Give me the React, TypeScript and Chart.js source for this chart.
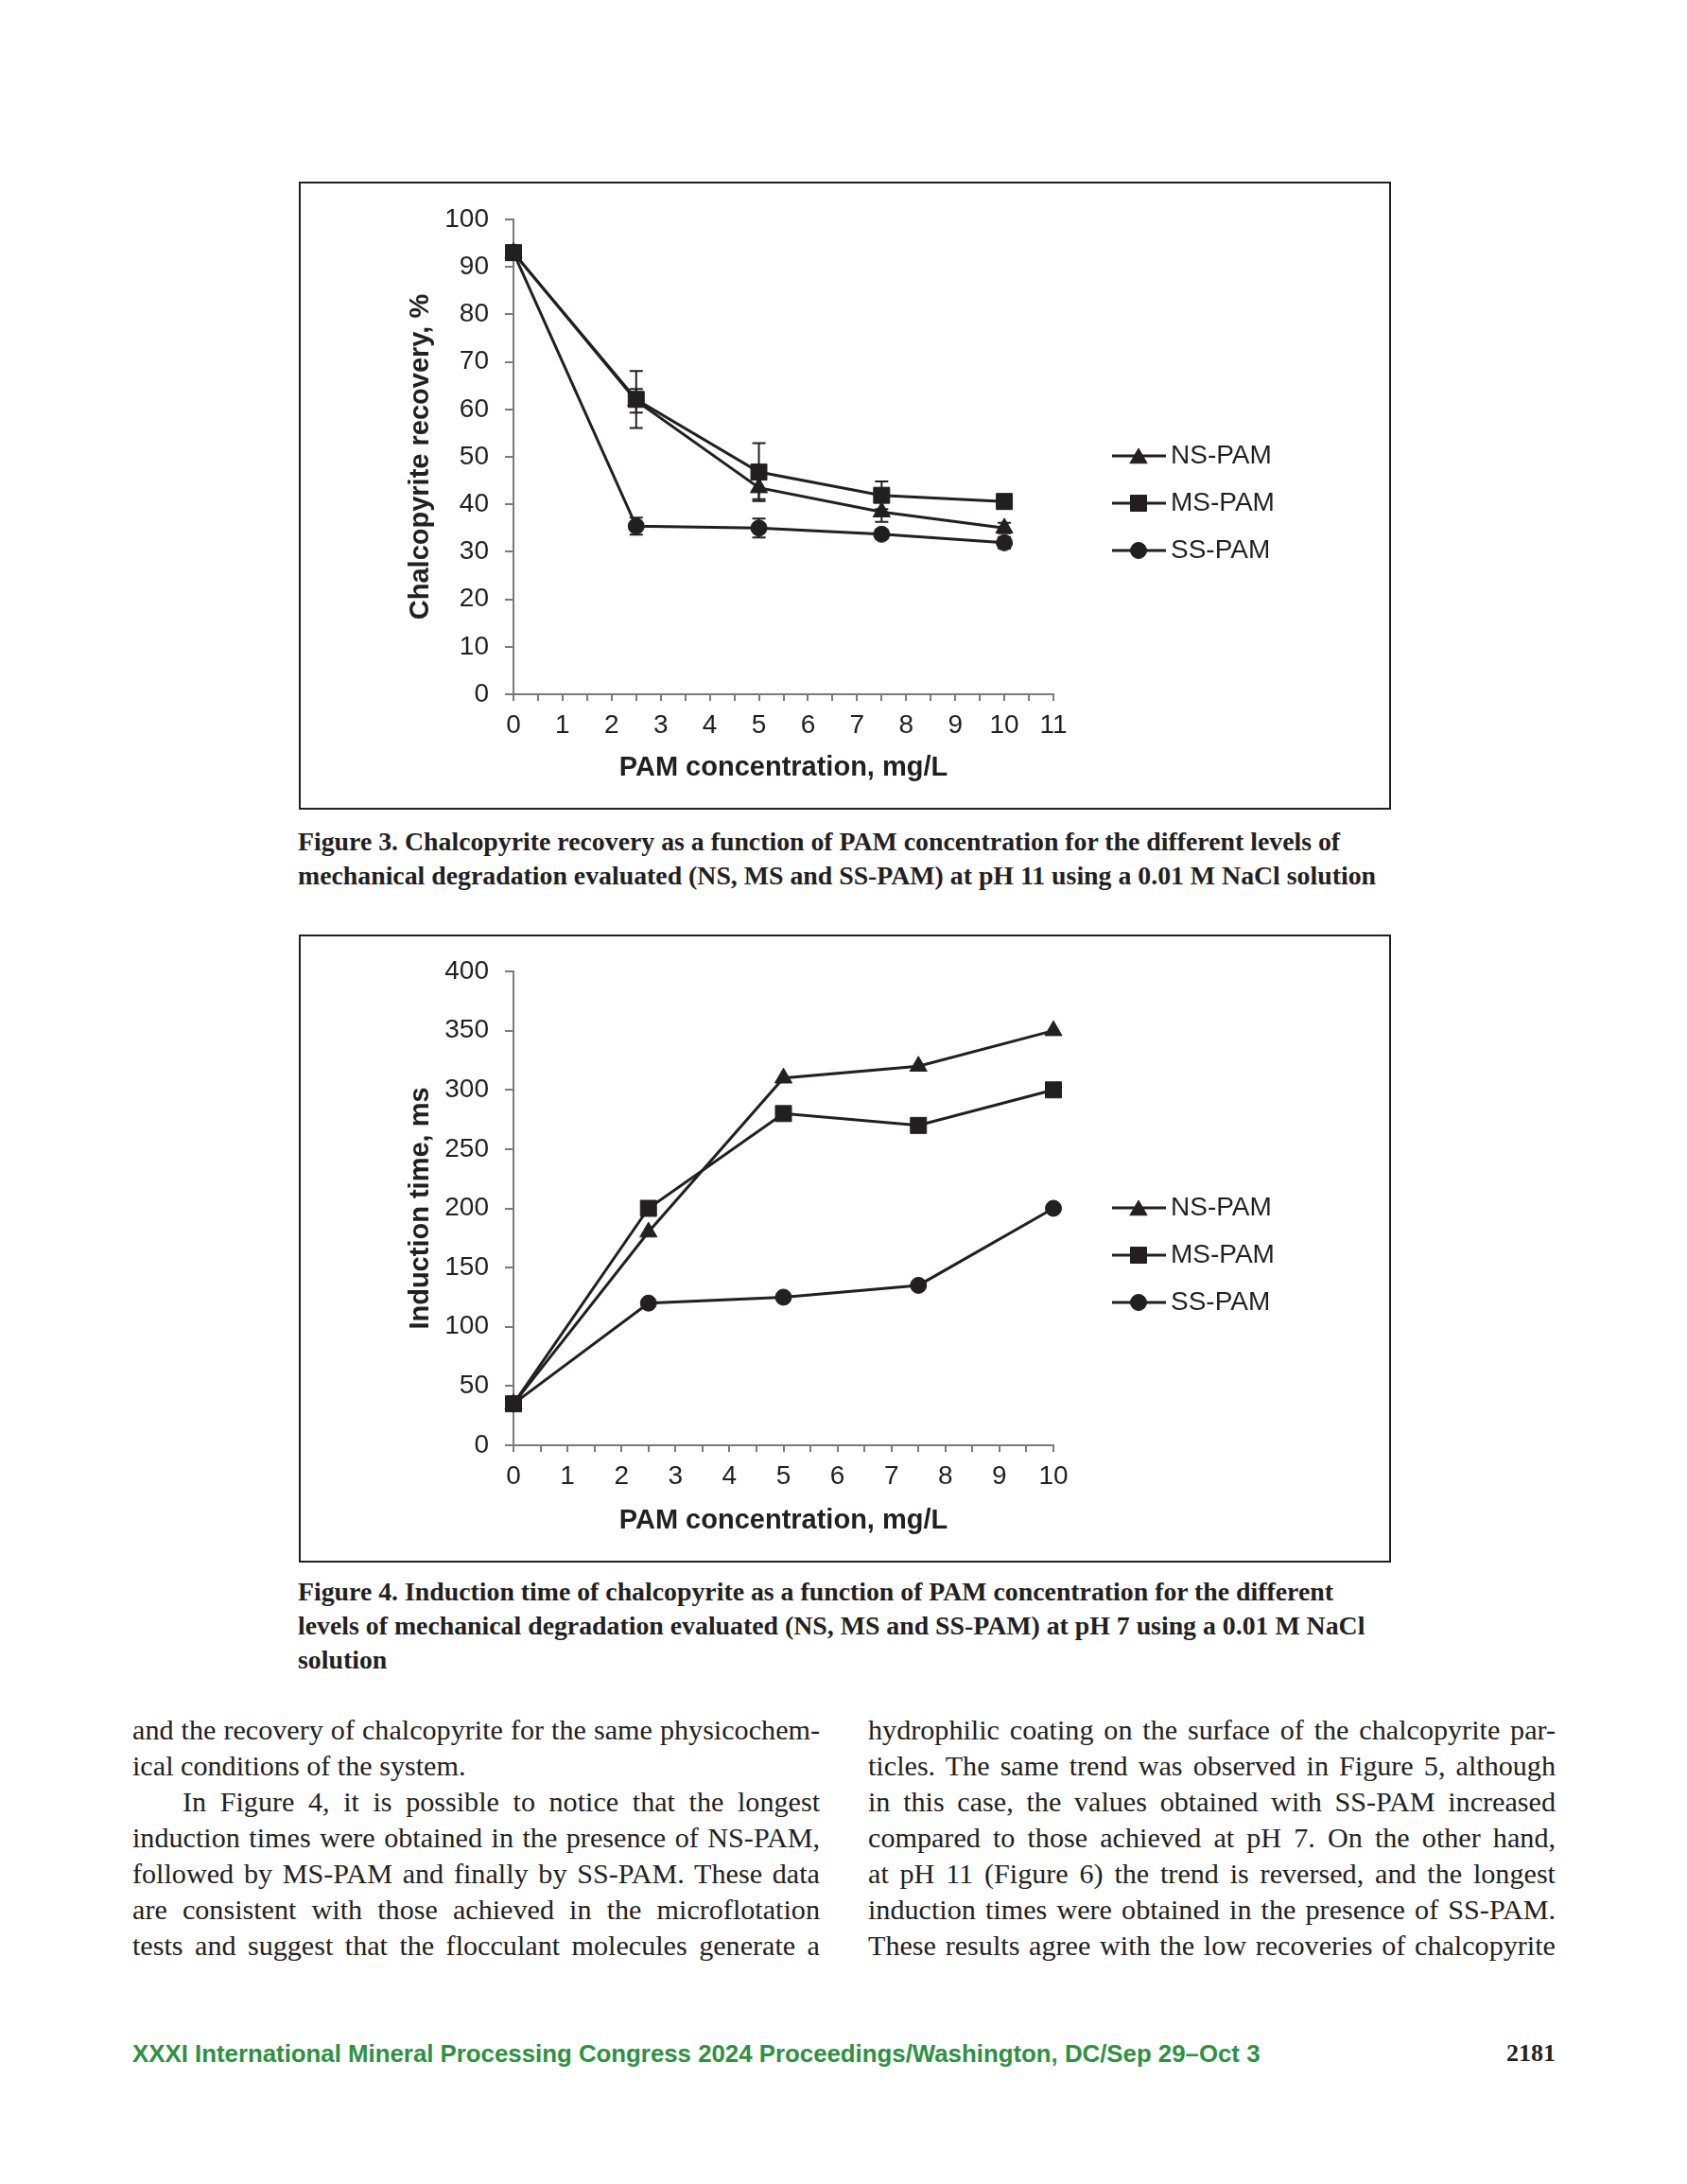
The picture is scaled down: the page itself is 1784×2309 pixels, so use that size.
import React, { useEffect, useRef } from 'react';
import { Chart, registerables } from 'chart.js';
import { drawPoint } from 'chart.js/helpers';

Chart.register(...registerables);

// ---------------- data ----------------
const concentrations = [0, 2.5, 5, 7.5, 10];
const seriesNames = ['NS-PAM', 'MS-PAM', 'SS-PAM'];

// Figure 3: chalcopyrite recovery, %
const recoveryNS = [93, 61.8, 43.5, 38.4, 35.0];
const recoveryMS = [93, 62.1, 46.8, 41.9, 40.6];
const recoverySS = [93, 35.4, 35.0, 33.7, 31.9];
const recoveryErrNS = [0, 2.5, 2.4, 2.1, 1.1];
const recoveryErrMS = [0, 6.0, 6.1, 2.9, 0.8];
const recoveryErrSS = [0, 1.8, 2.0, 1.0, 1.2];

// Figure 4: induction time, ms
const inductionNS = [35, 180, 310, 320, 350];
const inductionMS = [35, 200, 280, 270, 300];
const inductionSS = [35, 120, 125, 135, 200];

const fig3Axis = { xMax: 11, yMax: 100, yStep: 10 };
const fig4Axis = { xMax: 10, yMax: 400, yStep: 50 };
const xTitle = 'PAM concentration, mg/L';
const fig3YTitle = 'Chalcopyrite recovery, %';
const fig4YTitle = 'Induction time, ms';

const caption3 = [
  'Figure 3. Chalcopyrite recovery as a function of PAM concentration for the different levels of',
  'mechanical degradation evaluated (NS, MS and SS-PAM) at pH 11 using a 0.01 M NaCl solution',
];
const caption4 = [
  'Figure 4. Induction time of chalcopyrite as a function of PAM concentration for the different',
  'levels of mechanical degradation evaluated (NS, MS and SS-PAM) at pH 7 using a 0.01 M NaCl',
  'solution',
];
const bodyLeft = [
  'and the recovery of chalcopyrite for the same physicochem-',
  'ical conditions of the system.',
  'In Figure 4, it is possible to notice that the longest',
  'induction times were obtained in the presence of NS-PAM,',
  'followed by MS-PAM and finally by SS-PAM. These data',
  'are consistent with those achieved in the microflotation',
  'tests and suggest that the flocculant molecules generate a',
];
const bodyRight = [
  'hydrophilic coating on the surface of the chalcopyrite par-',
  'ticles. The same trend was observed in Figure 5, although',
  'in this case, the values obtained with SS-PAM increased',
  'compared to those achieved at pH 7. On the other hand,',
  'at pH 11 (Figure 6) the trend is reversed, and the longest',
  'induction times were obtained in the presence of SS-PAM.',
  'These results agree with the low recoveries of chalcopyrite',
];
const footerText = 'XXXI International Mineral Processing Congress 2024 Proceedings/Washington, DC/Sep 29–Oct 3';
const pageNumber = '2181';

// ---------------- styles ----------------
const INK = '#231f20';
const AXIS = '#7a7a7a';
const GREEN = '#2e9142';
const SANS = '"Liberation Sans", Arial, sans-serif';
const SERIF = '"Liberation Serif", "Times New Roman", serif';
const CANVAS_W = 1151;
const CANVAS_H = 660;

const pointStyles = ['triangle', 'rect', 'circle'];
const pointRadii = [10.5, 12, 8.5];
const drawOrders = [1, 0, 2];

const measureCtx = typeof document !== 'undefined' ? document.createElement('canvas').getContext('2d') : null;
function textWidth(text: string, font: string) {
  if (!measureCtx) return text.length * 50;
  measureCtx.font = font;
  return measureCtx.measureText(text).width;
}
function fitSize(lines: string[], targets: number[], weight: string, family: string) {
  let ratio = 0;
  lines.forEach((l, i) => {
    ratio = Math.max(ratio, textWidth(l, `${weight} 100px ${family}`) / targets[i]);
  });
  return 100 / ratio;
}

// ---------------- plugins ----------------
const errorBarsPlugin = {
  id: 'errorBars',
  afterDatasetsDraw(chart: any) {
    const { ctx } = chart;
    const yScale = chart.scales.y;
    chart.data.datasets.forEach((ds: any, di: number) => {
      const errs = ds.errors as number[] | undefined;
      if (!errs) return;
      const meta = chart.getDatasetMeta(di);
      meta.data.forEach((pt: any, i: number) => {
        const e = errs[i];
        if (!e) return;
        const v = ds.data[i].y;
        const x = pt.x;
        const yt = yScale.getPixelForValue(v + e);
        const yb = yScale.getPixelForValue(v - e);
        ctx.save();
        ctx.strokeStyle = INK;
        ctx.lineWidth = 2;
        ctx.beginPath();
        ctx.moveTo(x, yt);
        ctx.lineTo(x, yb);
        ctx.moveTo(x - 7, yt);
        ctx.lineTo(x + 7, yt);
        ctx.moveTo(x - 7, yb);
        ctx.lineTo(x + 7, yb);
        ctx.stroke();
        ctx.restore();
      });
    });
  },
};

const lineLegendPlugin = {
  id: 'lineLegend',
  afterDraw(chart: any) {
    const { ctx, chartArea } = chart;
    chart.data.datasets.forEach((ds: any, i: number) => {
      const y = chartArea.top + 250 + i * 50;
      const x0 = chartArea.right + 62;
      ctx.save();
      ctx.strokeStyle = INK;
      ctx.lineWidth = 3;
      ctx.beginPath();
      ctx.moveTo(x0, y);
      ctx.lineTo(x0 + 57, y);
      ctx.stroke();
      ctx.fillStyle = INK;
      ctx.strokeStyle = INK;
      ctx.lineWidth = 1;
      const dy = ds.pointStyle === 'triangle' ? 2.5 : 0;
      drawPoint(ctx, { pointStyle: ds.pointStyle, radius: ds.pointRadius, borderWidth: 1, rotation: 0 } as any, x0 + 28, y + dy);
      ctx.font = `28px ${SANS}`;
      ctx.textBaseline = 'middle';
      ctx.textAlign = 'left';
      ctx.fillText(ds.label, x0 + 62, y);
      ctx.restore();
    });
  },
};

type Geo = { left: number; right: number; top: number; bottom: number };

function makeConfig(series: number[][], errors: number[][] | null, axis: any, yTitle: string, geo: Geo) {
  const datasets = series.map((vals, k) => ({
    label: seriesNames[k],
    data: concentrations.map((x, i) => ({ x, y: vals[i] })),
    borderColor: INK,
    backgroundColor: INK,
    borderWidth: 3,
    pointStyle: pointStyles[k],
    pointRadius: pointRadii[k],
    pointHoverRadius: pointRadii[k],
    pointBackgroundColor: INK,
    pointBorderColor: INK,
    pointBorderWidth: 1,
    tension: 0,
    clip: false as const,
    order: drawOrders[k],
    errors: errors ? errors[k] : undefined,
  }));
  const tickFont = { family: SANS, size: 28 };
  const titleFont = { family: SANS, size: 29, weight: 'bold' as const };
  return {
    type: 'line' as const,
    data: { datasets },
    options: {
      responsive: false,
      maintainAspectRatio: false,
      animation: false as const,
      devicePixelRatio: 1,
      events: [],
      layout: { padding: { left: 0, right: CANVAS_W - geo.right, top: geo.top, bottom: 0 } },
      plugins: { legend: { display: false }, tooltip: { enabled: false } },
      scales: {
        x: {
          type: 'linear' as const,
          min: 0,
          max: axis.xMax,
          afterFit: (s: any) => {
            s.height = CANVAS_H - geo.bottom;
          },
          ticks: {
            stepSize: 0.5,
            autoSkip: false,
            maxRotation: 0,
            padding: 9,
            color: INK,
            font: tickFont,
            callback: (v: any) => (Number.isInteger(v) ? String(v) : ''),
          },
          grid: { drawOnChartArea: false, drawTicks: true, tickLength: 7, color: AXIS, lineWidth: 2 },
          border: { display: true, color: AXIS, width: 2 },
          title: { display: true, text: xTitle, color: INK, font: titleFont, padding: { top: 0, bottom: 25 } },
        },
        y: {
          type: 'linear' as const,
          min: 0,
          max: axis.yMax,
          afterFit: (s: any) => {
            s.width = geo.left;
          },
          ticks: { stepSize: axis.yStep, padding: 17, color: INK, font: tickFont },
          grid: { drawOnChartArea: false, drawTicks: true, tickLength: 9, color: AXIS, lineWidth: 2 },
          border: { display: true, color: AXIS, width: 2 },
          title: { display: true, text: yTitle, color: INK, font: titleFont, padding: { top: 110, bottom: 0 } },
        },
      },
    },
    plugins: [errorBarsPlugin, lineLegendPlugin],
  };
}

function ChartBox({ top, config }: { top: number; config: () => any }) {
  const ref = useRef<HTMLCanvasElement>(null);
  useEffect(() => {
    const chart = new Chart(ref.current as HTMLCanvasElement, config());
    return () => chart.destroy();
  }, []);
  return (
    <div
      style={{
        position: 'absolute',
        left: 316,
        top,
        width: CANVAS_W + 4,
        height: CANVAS_H + 4,
        border: `2px solid ${INK}`,
        boxSizing: 'border-box',
        background: '#fff',
      }}
    >
      <canvas
        ref={ref}
        width={CANVAS_W}
        height={CANVAS_H}
        style={{ position: 'absolute', left: 0, top: 0, width: CANVAS_W, height: CANVAS_H }}
      />
    </div>
  );
}

function TextLine({ text, left, width, cy, size, family, weight, justify, color }: any) {
  const lh = 40;
  return (
    <div
      style={{
        position: 'absolute',
        left,
        width,
        top: cy - lh / 2,
        height: lh,
        lineHeight: `${lh}px`,
        fontSize: size,
        fontFamily: family,
        fontWeight: weight || 'normal',
        color: color || INK,
        whiteSpace: 'nowrap',
        textAlign: justify ? 'justify' : 'left',
        textAlignLast: justify ? 'justify' : 'left',
      } as any}
    >
      {text}
    </div>
  );
}

export default function App() {
  const colW = 727;
  const indent = 53;
  const bodyTargetsL = bodyLeft.map((_, i) => (i === 2 ? colW - indent : colW));
  const justL = bodyLeft.map((_, i) => i !== 1);
  const bodySize =
    Math.min(
      fitSize(bodyLeft.filter((_, i) => justL[i]), bodyTargetsL.filter((_, i) => justL[i]), 'normal', SERIF),
      fitSize(bodyRight, bodyRight.map(() => colW), 'normal', SERIF)
    ) * 0.995;
  const capSize = fitSize([caption3[0]], [1103], 'bold', SERIF);
  const footSize = fitSize([footerText], [1193], 'bold', SANS);

  return (
    <div
      style={{
        position: 'absolute',
        left: 0,
        top: 0,
        width: 1784,
        height: 2309,
        background: '#fff',
        overflow: 'hidden',
      }}
    >
      <ChartBox
        top={192}
        config={() =>
          makeConfig(
            [recoveryNS, recoveryMS, recoverySS],
            [recoveryErrNS, recoveryErrMS, recoveryErrSS],
            fig3Axis,
            fig3YTitle,
            { left: 225, right: 796, top: 38, bottom: 540 }
          )
        }
      />
      {caption3.map((t, i) => (
        <TextLine key={'c3' + i} text={t} left={315} width={1300} cy={890 + i * 36} size={capSize} family={SERIF} weight="bold" />
      ))}
      <ChartBox
        top={988}
        config={() =>
          makeConfig(
            [inductionNS, inductionMS, inductionSS],
            null,
            fig4Axis,
            fig4YTitle,
            { left: 225, right: 796, top: 37, bottom: 538 }
          )
        }
      />
      {caption4.map((t, i) => (
        <TextLine key={'c4' + i} text={t} left={315} width={1300} cy={1683 + i * 36} size={capSize} family={SERIF} weight="bold" />
      ))}
      {bodyLeft.map((t, i) => (
        <TextLine
          key={'bl' + i}
          text={t}
          left={i === 2 ? 140 + indent : 140}
          width={i === 2 ? colW - indent : colW}
          cy={1829 + i * 38}
          size={bodySize}
          family={SERIF}
          justify={justL[i]}
        />
      ))}
      {bodyRight.map((t, i) => (
        <TextLine key={'br' + i} text={t} left={918} width={colW} cy={1829 + i * 38} size={bodySize} family={SERIF} justify />
      ))}
      <TextLine text={footerText} left={140} width={1300} cy={2171} size={footSize} family={SANS} weight="bold" color={GREEN} />
      <div
        style={{
          position: 'absolute',
          left: 1445,
          width: 200,
          top: 2151,
          height: 40,
          lineHeight: '40px',
          textAlign: 'right',
          fontFamily: SERIF,
          fontWeight: 'bold',
          fontSize: 26,
          color: INK,
        }}
      >
        {pageNumber}
      </div>
    </div>
  );
}
